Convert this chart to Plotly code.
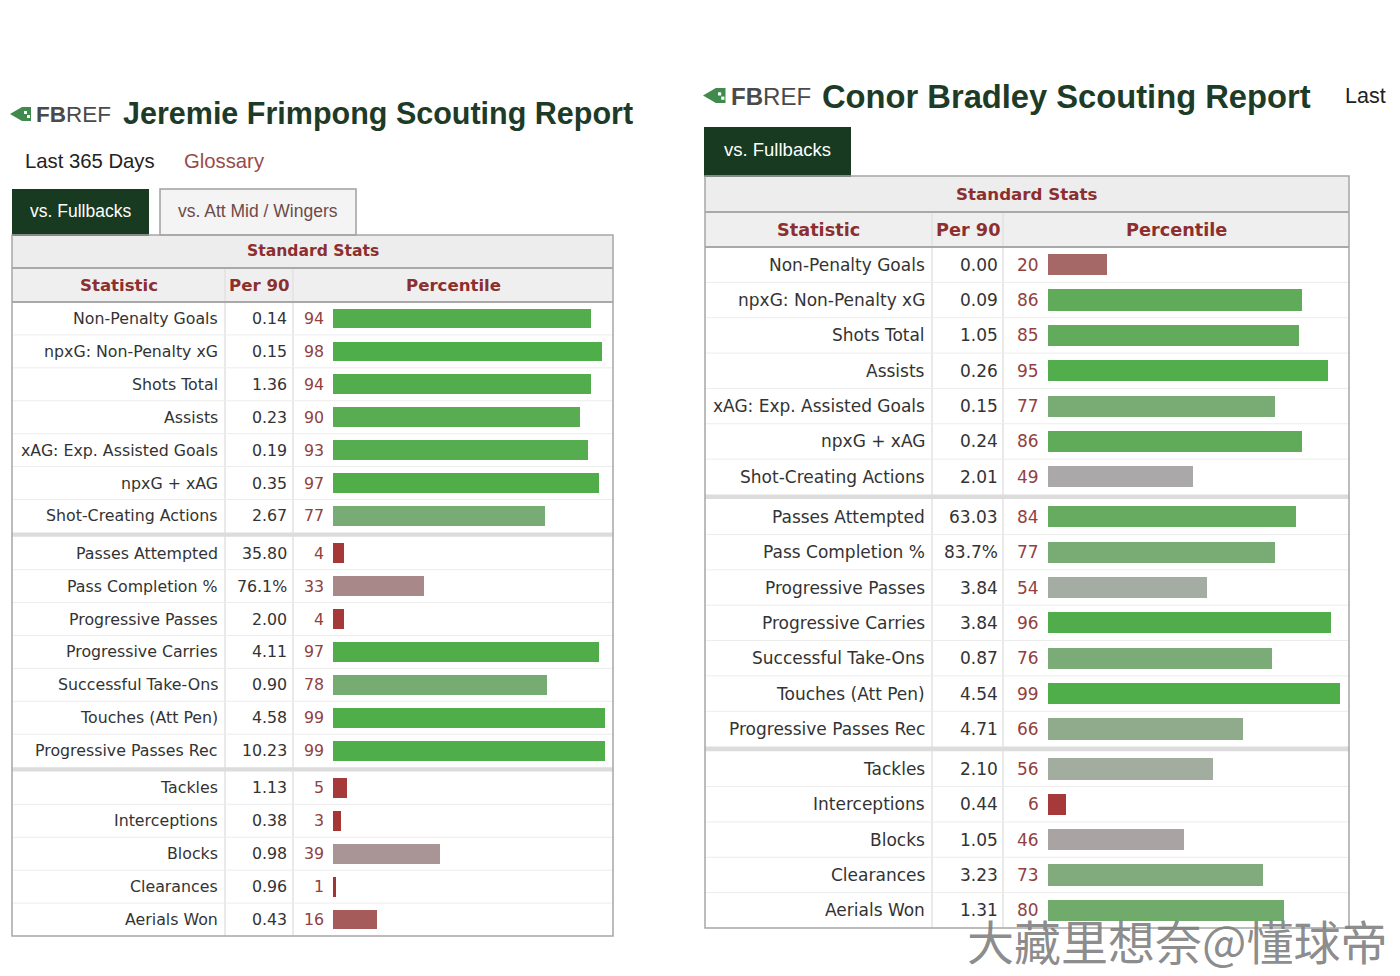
import plotly.graph_objects as go

W, H = 1400, 976

# ---- data ----
stat_names = [
    "Non-Penalty Goals", "npxG: Non-Penalty xG", "Shots Total", "Assists",
    "xAG: Exp. Assisted Goals", "npxG + xAG", "Shot-Creating Actions",
    "Passes Attempted", "Pass Completion %", "Progressive Passes",
    "Progressive Carries", "Successful Take-Ons", "Touches (Att Pen)",
    "Progressive Passes Rec",
    "Tackles", "Interceptions", "Blocks", "Clearances", "Aerials Won",
]
group_sizes = [7, 7, 5]

frimpong_per90 = ["0.14", "0.15", "1.36", "0.23", "0.19", "0.35", "2.67",
                  "35.80", "76.1%", "2.00", "4.11", "0.90", "4.58", "10.23",
                  "1.13", "0.38", "0.98", "0.96", "0.43"]
frimpong_pct = [94, 98, 94, 90, 93, 97, 77,
                4, 33, 4, 97, 78, 99, 99,
                5, 3, 39, 1, 16]

bradley_per90 = ["0.00", "0.09", "1.05", "0.26", "0.15", "0.24", "2.01",
                 "63.03", "83.7%", "3.84", "3.84", "0.87", "4.54", "4.71",
                 "2.10", "0.44", "1.05", "3.23", "1.31"]
bradley_pct = [20, 86, 85, 95, 77, 86, 49,
               84, 77, 54, 96, 76, 99, 66,
               56, 6, 46, 73, 80]

players = ["Jeremie Frimpong", "Conor Bradley"]
left_tabs = ["vs. Fullbacks", "vs. Att Mid / Wingers"]
right_tabs = ["vs. Fullbacks"]
col_labels = ["Statistic", "Per 90", "Percentile"]
section_label = "Standard Stats"
watermark = "大藏里想奈@懂球帝"

# ---- styles ----
BODY_FONT = "DejaVu Sans"
HEAD_FONT = "Liberation Sans"
DARK_GREEN = "#173a21"
TITLE_GREEN = "#1d3b27"
HEAD_RED = "#8c2f2f"
PCT_RED = "#914141"
BODY_TXT = "#333333"

pct_scale = [
    [0.00, "#a63232"], [0.08, "#a63d3d"], [0.18, "#a66262"],
    [0.33, "#a88888"], [0.42, "#aa9b9b"], [0.50, "#aaaaaa"],
    [0.56, "#a3ad9f"], [0.66, "#8fab8b"], [0.77, "#79ab74"],
    [0.86, "#60ab59"], [0.95, "#52ad4c"], [1.00, "#4eae48"],
]

GAP = 0.13  # extra space between stat groups, in rows
row_pos = []
for g, n in enumerate(group_sizes):
    start = sum(group_sizes[:g])
    row_pos += [start + k + GAP * g for k in range(n)]


def px(x):
    return x / W


def py(y):
    return 1 - y / H


fig = go.Figure()


def note(x, y, s, size, color, family=BODY_FONT, anchor="right", yref="paper"):
    fig.add_annotation(
        x=px(x), y=py(y) if yref == "paper" else y, xref="paper", yref=yref,
        text=s, showarrow=False, xanchor=anchor, yanchor="middle",
        font=dict(size=size, color=color, family=family))


def rect(x0, y0, x1, y1, fill, line=None, lw=1):
    fig.add_shape(type="rect", xref="paper", yref="paper",
                  x0=px(x0), x1=px(x1), y0=py(y0), y1=py(y1),
                  fillcolor=fill, line=dict(color=line or fill, width=lw if line else 0),
                  layer="below")


def logo(x, y, s):
    # small green FBref mark + wordmark
    p = (f"M {px(x)},{py(y + 7 * s)} L {px(x + 12 * s)},{py(y)} L {px(x + 21 * s)},{py(y)} "
         f"L {px(x + 21 * s)},{py(y + 14 * s)} L {px(x + 12 * s)},{py(y + 14 * s)} Z")
    fig.add_shape(type="path", path=p, xref="paper", yref="paper",
                  fillcolor="#3f8a4c", line=dict(width=0))
    fig.add_shape(type="rect", xref="paper", yref="paper",
                  x0=px(x + 14 * s), x1=px(x + 17 * s), y0=py(y + 4 * s), y1=py(y + 7 * s),
                  fillcolor="white", line=dict(width=0))
    fig.add_shape(type="rect", xref="paper", yref="paper",
                  x0=px(x + 17 * s), x1=px(x + 20 * s), y0=py(y + 8 * s), y1=py(y + 11 * s),
                  fillcolor="white", line=dict(width=0))
    note(x + 24 * s, y + 7.5 * s, "<b>FB</b>REF", 22.5 * s, "#4a4a4a", HEAD_FONT, "left")


def add_table(spec, per90, pct):
    n = spec["ax"]
    xa, ya = "x" + n, "y" + n
    fig.add_trace(go.Bar(
        x=pct, y=row_pos, orientation="h", width=0.6,
        marker=dict(color=pct, colorscale=pct_scale, cmin=0, cmax=100,
                    line=dict(width=0)),
        xaxis=xa, yaxis=ya, hoverinfo="skip", showlegend=False))
    fig.update_layout(**{
        "xaxis" + n: dict(domain=[px(spec["bar0"]), px(spec["x1"])],
                          range=[0, (spec["x1"] - spec["bar0"]) / spec["unit"]],
                          visible=False, fixedrange=True, anchor=ya),
        "yaxis" + n: dict(domain=[py(spec["bottom"]), py(spec["body_top"])],
                          range=[row_pos[-1] + 0.5, -0.5],
                          visible=False, fixedrange=True, anchor=xa),
    })

    x0, x1 = spec["x0"], spec["x1"]
    # header rows
    rect(x0, spec["sec_top"], x1, spec["col_top"], "#ededed")
    rect(x0, spec["col_top"], x1, spec["body_top"], "#efefef")
    for yy in (spec["col_top"], spec["body_top"]):
        fig.add_shape(type="line", xref="paper", yref="paper", x0=px(x0), x1=px(x1),
                      y0=py(yy), y1=py(yy), line=dict(color="#a9a9a9", width=2))
    # column dividers
    for cx in (spec["c1"], spec["c2"]):
        fig.add_shape(type="line", xref="paper", yref="paper", x0=px(cx), x1=px(cx),
                      y0=py(spec["col_top"]), y1=py(spec["bottom"]),
                      line=dict(color="#e2e2e2", width=1.5), layer="below")
    # row separators / group bands
    for i in range(len(row_pos) - 1):
        a, b = row_pos[i], row_pos[i + 1]
        if b - a > 1.01:
            fig.add_shape(type="rect", xref="paper", yref=ya, x0=px(x0), x1=px(x1),
                          y0=a + 0.5, y1=b - 0.5, fillcolor="#dcdcdc",
                          line=dict(width=0), layer="below")
        else:
            fig.add_shape(type="line", xref="paper", yref=ya, x0=px(x0), x1=px(x1),
                          y0=(a + b) / 2, y1=(a + b) / 2,
                          line=dict(color="#ececec", width=1), layer="below")
    # outer border
    fig.add_shape(type="rect", xref="paper", yref="paper", x0=px(x0), x1=px(x1),
                  y0=py(spec["sec_top"]), y1=py(spec["bottom"]),
                  line=dict(color="#a6a6a6", width=1.5), fillcolor="rgba(0,0,0,0)")

    # header text
    hf = spec["hfs"]
    note((x0 + x1) / 2, (spec["sec_top"] + spec["col_top"]) / 2, "<b>" + section_label + "</b>",
         hf, HEAD_RED, anchor="center")
    cy = (spec["col_top"] + spec["body_top"]) / 2
    centers = [(x0 + spec["c1"]) / 2, (spec["c1"] + spec["c2"]) / 2, (spec["c2"] + x1) / 2]
    for c, lab in zip(centers, col_labels):
        note(c, cy, "<b>" + lab + "</b>", hf + 1, HEAD_RED, anchor="center")

    # body text
    fs = spec["fs"]
    for name, v, p, yy in zip(stat_names, per90, pct, row_pos):
        note(spec["name_r"], yy, name, fs, BODY_TXT, yref=ya)
        note(spec["val_r"], yy, v, fs, BODY_TXT, yref=ya)
        note(spec["pct_r"], yy, str(p), fs, PCT_RED, yref=ya)


left = dict(ax="", x0=12, x1=613, c1=225, c2=293, bar0=333, unit=2.747,
            sec_top=235, col_top=268, body_top=302, bottom=936,
            fs=15.8, hfs=15.6, name_r=220, val_r=289, pct_r=326)
right = dict(ax="2", x0=705, x1=1349, c1=932, c2=1003, bar0=1048, unit=2.949,
             sec_top=176, col_top=212, body_top=247, bottom=928,
             fs=17, hfs=16.7, name_r=927, val_r=1000, pct_r=1041)

add_table(left, frimpong_per90, frimpong_pct)
add_table(right, bradley_per90, bradley_pct)

# ---- left page header ----
logo(10, 107, 1.0)
note(121, 114, "<b>" + players[0] + " Scouting Report</b>", 30.5, TITLE_GREEN, HEAD_FONT, "left")
note(23, 161, "Last 365 Days", 20.3, "#222222", HEAD_FONT, "left")
note(182, 161, "Glossary", 20.3, "#9a4a4a", HEAD_FONT, "left")
rect(12, 189, 149, 236, DARK_GREEN)
note(80.5, 211, left_tabs[0], 17.5, "white", HEAD_FONT, "center")
rect(160, 189, 356, 235, "#f4f4f4", "#a0a0a0", 1.5)
note(258, 211, left_tabs[1], 17.5, "#6e4a4a", HEAD_FONT, "center")

# ---- right page header ----
logo(703, 88, 1.07)
note(820, 96, "<b>" + players[1] + " Scouting Report</b>", 32.7, TITLE_GREEN, HEAD_FONT, "left")
note(1343, 96, "Last", 21.5, "#222222", HEAD_FONT, "left")
rect(704, 127, 851, 177, DARK_GREEN)
note(777.5, 150, right_tabs[0], 18.5, "white", HEAD_FONT, "center")

# ---- watermark ----
fig.add_annotation(x=px(1389), y=py(939), xref="paper", yref="paper", text=watermark,
                   showarrow=False, xanchor="right", yanchor="middle",
                   font=dict(size=47, color="rgba(125,125,125,0.9)", family="Noto Sans CJK SC"))

fig.update_layout(
    width=W, height=H, margin=dict(l=0, r=0, t=0, b=0),
    paper_bgcolor="white", plot_bgcolor="rgba(0,0,0,0)",
    bargap=0, showlegend=False,
)

fig.write_html("out.html", config={"displayModeBar": False},
               post_script="document.body.style.margin='0';document.body.style.overflow='hidden';")
